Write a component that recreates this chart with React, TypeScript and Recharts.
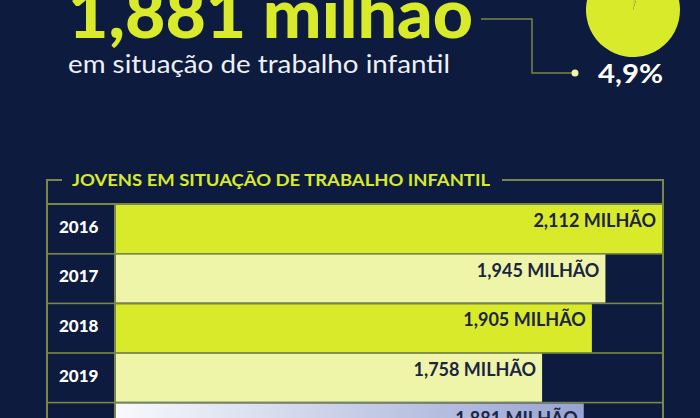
import { BarChart, Bar, XAxis, YAxis, Cell, LabelList, PieChart, Pie } from "recharts";

// jovens em situação de trabalho infantil (milhões)
const years = ["2016", "2017", "2018", "2019", "2022"];
const jovens = [2.112, 1.945, 1.905, 1.758, 1.881];
const barColors = ["#d9ea2b", "#eef5a9", "#d9ea2b", "#eef5a9", "url(#grad2022)"];

// parcela da população de 5 a 17 anos
const pieNames = ["trabalho infantil", "demais"];
const pieValues = [4.9, 95.1];
const pieColors = ["#c9d83a", "#d9ea2b"];

const headline = "1,881 milhão";
const subtitle = "em situação de trabalho infantil";
const share = "4,9%";
const tableTitle = "JOVENS EM SITUAÇÃO DE TRABALHO INFANTIL";

const NAVY = "#0d1b3e";
const LIME = "#d9ea2b";
const LINE = "#7a8748";
const FONT = "Lato, 'Open Sans', sans-serif";
const LEFT = 48;

const data = years.map((year, i) => ({ year, value: jovens[i] }));
const pieData = pieNames.map((name, i) => ({ name, value: pieValues[i] }));

const fmt = (v: number) => `${v.toFixed(3).replace(".", ",")} MILHÃO`;

const YearTick = (props: any) => {
  const { y, payload } = props;
  return (
    <text x={LEFT + 11} y={y + 4} fill="#ffffff" fontFamily={FONT} fontWeight={900} fontSize={17}>
      {payload.value}
    </text>
  );
};

// célula do ano + fundo da linha
const RowBackground = (props: any) => {
  const { x, y, width, height } = props;
  return (
    <g>
      <rect x={LEFT} y={y} width={x - LEFT - 2} height={height} fill={NAVY} />
      <rect x={x} y={y} width={width} height={height} fill={NAVY} />
    </g>
  );
};

const ValueLabel = (props: any) => {
  const { x, y, width, height, value } = props;
  return (
    <text
      x={x + width - 6}
      y={y + height / 2 - 2}
      textAnchor="end"
      fill="#1b2442"
      fontFamily={FONT}
      fontWeight={700}
      fontSize={18}
    >
      {fmt(value)}
    </text>
  );
};

export default function App() {
  return (
    <div
      style={{
        position: "absolute",
        left: 0,
        top: 0,
        width: 700,
        height: 418,
        background: NAVY,
        overflow: "hidden",
      }}
    >
      {/* linhas da tabela */}
      <div style={{ position: "absolute", left: 46, top: 203, width: 618, height: 300, background: LINE }} />

      <div style={{ position: "absolute", left: 0, top: 0 }}>
        <BarChart
          width={700}
          height={470}
          data={data}
          layout="vertical"
          margin={{ top: 204, right: 38, bottom: 18, left: LEFT }}
          barCategoryGap={1}
        >
          <defs>
            <linearGradient id="grad2022" x1="0" y1="0" x2="1" y2="0">
              <stop offset="0" stopColor="#f8f9fd" />
              <stop offset="1" stopColor="#98a3d3" />
            </linearGradient>
          </defs>
          <XAxis type="number" domain={[0.5, "dataMax"]} hide />
          <YAxis type="category" dataKey="year" width={68} axisLine={false} tickLine={false} tick={<YearTick />} />
          <Bar dataKey="value" isAnimationActive={false} background={RowBackground}>
            {data.map((_, i) => (
              <Cell key={`cell-${i}`} fill={barColors[i]} />
            ))}
            <LabelList dataKey="value" content={ValueLabel} />
          </Bar>
        </BarChart>
      </div>

      <div style={{ position: "absolute", left: 0, top: 0 }}>
        <PieChart width={700} height={418}>
          <Pie
            data={pieData}
            dataKey="value"
            nameKey="name"
            cx={628}
            cy={5}
            outerRadius={47}
            startAngle={90}
            endAngle={-270}
            stroke="none"
            isAnimationActive={false}
          >
            {pieData.map((_, i) => (
              <Cell key={`p-${i}`} fill={pieColors[i]} />
            ))}
          </Pie>
        </PieChart>
      </div>

      <svg width={700} height={418} style={{ position: "absolute", left: 0, top: 0, pointerEvents: "none" }}>
        <text x={68} y={38} fill={LIME} fontFamily={FONT} fontWeight={900} fontSize={68} textLength={405} lengthAdjust="spacingAndGlyphs">
          {headline}
        </text>
        <text x={68} y={73} fill="#eef0f6" fontFamily={FONT} fontWeight={400} fontSize={25} textLength={382} lengthAdjust="spacingAndGlyphs">
          {subtitle}
        </text>
        <path d="M481,19 H532 V73 H573" fill="none" stroke={LINE} strokeWidth={1.5} />
        <circle cx={575} cy={73} r={3.5} fill="#eef5a9" />
        <text x={598} y={83} fill="#ffffff" fontFamily={FONT} fontWeight={700} fontSize={26} textLength={65} lengthAdjust="spacingAndGlyphs">
          {share}
        </text>

        <path d="M47,203 V180 H62 M502,180 H663 V203" fill="none" stroke={LINE} strokeWidth={2} />
        <text x={72} y={186} fill={LIME} fontFamily={FONT} fontWeight={700} fontSize={17} textLength={418} lengthAdjust="spacingAndGlyphs">
          {tableTitle}
        </text>
      </svg>
    </div>
  );
}
